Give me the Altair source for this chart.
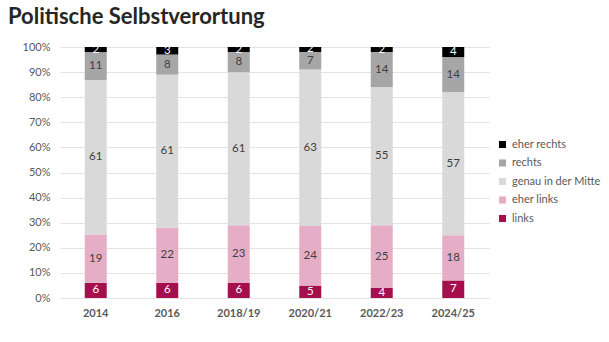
import altair as alt
import pandas as pd

years = ["2014", "2016", "2018/19", "2020/21", "2022/23", "2024/25"]
categories = ["links", "eher links", "genau in der Mitte", "rechts", "eher rechts"]
links = [6, 6, 6, 5, 4, 7]
eher_links = [19, 22, 23, 24, 25, 18]
mitte = [61, 61, 61, 63, 55, 57]
rechts = [11, 8, 8, 7, 14, 14]
eher_rechts = [2, 3, 2, 2, 2, 4]
colors = ["#A50F4E", "#E6AEC6", "#D9D9D9", "#A6A6A6", "#000000"]
label_dark = [False, True, True, True, False]
y_ticks = [0, 0.1, 0.2, 0.3, 0.4, 0.5, 0.6, 0.7, 0.8, 0.9, 1.0]

series = [links, eher_links, mitte, rechts, eher_rechts]
rows = []
for ci, (cat, vals) in enumerate(zip(categories, series)):
    for yi, yr in enumerate(years):
        rows.append({"year": yr, "cat": cat, "value": vals[yi], "order": ci,
                     "dark": label_dark[ci]})
df = pd.DataFrame(rows)

legend_order = categories[::-1]
legend_colors = colors[::-1]
FONT = "Lato"

base = alt.Chart(df).transform_stack(
    stack="value", groupby=["year"], as_=["y0", "y1"],
    offset="normalize", sort=[alt.SortField("order", order="ascending")]
).transform_calculate(mid="(datum.y0 + datum.y1) / 2")

x_axis = alt.Axis(labelAngle=0, labelFontWeight="bold", labelFontSize=11,
                  labelColor="#595959", labelPadding=9, ticks=False,
                  domain=False, labelFont=FONT)
y_axis = alt.Axis(format=".0%", values=y_ticks, tickCount=11,
                  labelOverlap=False,
                  labelFontSize=11, labelColor="#595959", labelPadding=10,
                  ticks=False, domain=False, gridColor="#E3E3E3",
                  labelFont=FONT)
y_scale = alt.Scale(domain=[0, 1], nice=False)
x_enc = alt.X("year:N", sort=years, title=None, axis=x_axis)

bars = base.mark_bar(size=22).encode(
    x=x_enc,
    y=alt.Y("y0:Q", scale=y_scale, title=None, axis=y_axis),
    y2="y1:Q",
    color=alt.Color("cat:N", scale=alt.Scale(domain=legend_order, range=legend_colors),
                    legend=alt.Legend(title=None, orient="none", legendX=437, legendY=92,
                                      symbolType="square", symbolSize=50,
                                      symbolStrokeWidth=0, labelFontSize=11,
                                      labelColor="#595959", rowPadding=6.5,
                                      labelFont=FONT)),
)

txt_dark = base.transform_filter("datum.dark").mark_text(
    fontSize=11.5, color="#404040", font=FONT).encode(
    x=x_enc, y=alt.Y("mid:Q", scale=y_scale, title=None, axis=y_axis), text="value:Q")
txt_light = base.transform_filter("!datum.dark").mark_text(
    fontSize=11.5, color="#FFFFFF", font=FONT).encode(
    x=x_enc, y=alt.Y("mid:Q", scale=y_scale, title=None, axis=y_axis), text="value:Q")

chart = alt.layer(bars, txt_dark, txt_light).properties(
    width=429, height=251,
    autosize=alt.AutoSizeParams(type="none"),
    padding={"left": 60, "top": 47, "right": 120, "bottom": 44},
    title=alt.TitleParams("Politische Selbstverortung", anchor="start", frame="group",
                          fontSize=22, font=FONT, fontWeight="bold", color="#262626",
                          dx=-52, offset=12),
).configure_view(stroke=None)

chart.save("out.html", embed_options={"renderer": "svg", "actions": False})
